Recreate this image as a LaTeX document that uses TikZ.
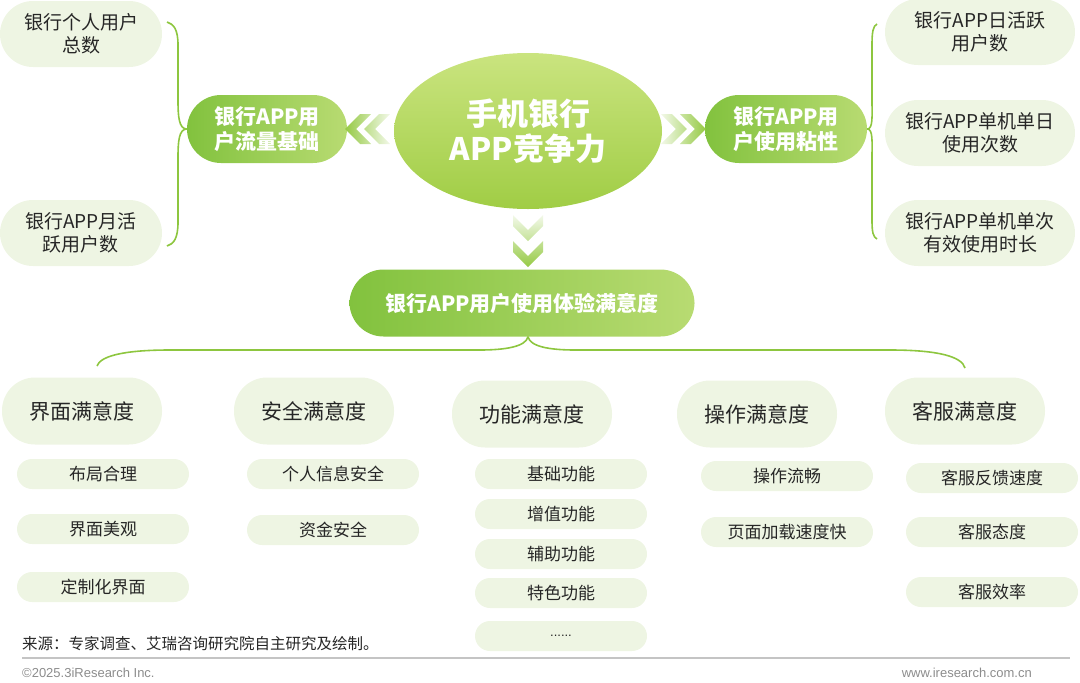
\documentclass[tikz,border=0pt]{standalone}
\usepackage{fontspec}
\setmainfont{Noto Sans CJK SC}
\newfontfamily\latinfont{Liberation Sans}
\usetikzlibrary{shapes.geometric,positioning,calc}

\definecolor{paleg}{HTML}{EEF5E3}
\definecolor{ink}{HTML}{262626}
\definecolor{hubdark}{HTML}{82C23E}
\definecolor{hublight}{HTML}{B8DB72}
\definecolor{coretop}{HTML}{CAE47F}
\definecolor{corebot}{HTML}{A0CD45}
\definecolor{braceg}{HTML}{8DC63F}
\definecolor{chevg}{HTML}{96CA45}
\definecolor{footg}{HTML}{8C8C8C}
\definecolor{ruleg}{HTML}{C4C4C4}

\tikzset{
  soft/.style={fill=paleg, text=ink, inner sep=0pt, align=center},
  catbox/.style={soft, minimum width=160, minimum height=67, rounded corners=33, font=\fontsize{21}{25}\selectfont},
  metricbox/.style={soft, minimum width=#1, minimum height=66, rounded corners=33, font=\fontsize{19}{23}\selectfont},
  itembox/.style={soft, minimum width=172, minimum height=30, rounded corners=15, font=\fontsize{17}{20}\selectfont},
  hubbox/.style={left color=hubdark, right color=hublight, text=white, inner sep=0pt, align=center, minimum height=68, rounded corners=34, font=\bfseries\fontsize{21}{25}\selectfont},
  brace/.style={draw=braceg, line width=1.6}
}

\begin{document}
\begin{tikzpicture}[x=1pt, y=-1pt]
  \useasboundingbox (0,0) rectangle (1080,683);

  % Core and the two hubs
  \node[ellipse, top color=coretop, bottom color=corebot, minimum width=268, minimum height=156,
        inner sep=0pt, align=center, text=white, font=\bfseries\fontsize{31}{35}\selectfont]
        (core) at (528,131) {手机银行\\APP竞争力};
  \node[hubbox, minimum width=160] (lflow) at (267,129) {银行APP用\\户流量基础};
  \node[hubbox, minimum width=162] (rstick) at (786,129) {银行APP用\\户使用粘性};
  \node[hubbox, minimum width=345, minimum height=67] (sat) at (522,303) {银行APP用户使用体验满意度};

  % Metrics left and right
  \node[metricbox=162] (tl1) at (81,34) {银行个人用户\\总数};
  \node[metricbox=162] (tl2) at (81,233) {银行APP月活\\跃用户数};
  \node[metricbox=190] (tr1) at (980,32) {银行APP日活跃\\用户数};
  \node[metricbox=190] (tr2) at (980,133) {银行APP单机单日\\使用次数};
  \node[metricbox=190] (tr3) at (980,233) {银行APP单机单次\\有效使用时长};

  % Chevrons
  \shade[left color=chevg, right color=chevg!12]
    ([xshift=-2]lflow.east) -- ++(15,-15) -- ++(11,0) -- ++(-15,15) -- ++(15,15) -- ++(-11,0) -- cycle
    ([xshift=17]lflow.east) -- ++(15,-15) -- ++(11,0) -- ++(-15,15) -- ++(15,15) -- ++(-11,0) -- cycle;
  \shade[left color=chevg!12, right color=chevg]
    ([xshift=-18]rstick.west) -- ++(-15,-15) -- ++(-11,0) -- ++(15,15) -- ++(-15,15) -- ++(11,0) -- cycle
    ([xshift=1]rstick.west) -- ++(-15,-15) -- ++(-11,0) -- ++(15,15) -- ++(-15,15) -- ++(11,0) -- cycle;
  \shade[top color=chevg!12, bottom color=chevg]
    ([yshift=-32]core.south) -- ++(-15,-15) -- ++(0,-11) -- ++(15,15) -- ++(15,-15) -- ++(0,11) -- cycle
    ([yshift=-58]core.south) -- ++(-15,-15) -- ++(0,-11) -- ++(15,15) -- ++(15,-15) -- ++(0,11) -- cycle;

  % Braces
  \coordinate (lt) at (167,22);
  \coordinate (lb) at (167,246);
  \coordinate (rt) at (877,24);
  \coordinate (rb) at (877,239);
  \draw[brace] (lflow.west) .. controls +(-8,0) and (178,116) .. (178,100) -- (178,45) .. controls (178,30) and (174,24) .. (lt);
  \draw[brace] (lflow.west) .. controls +(-8,0) and (178,142) .. (178,158) -- (178,222) .. controls (178,238) and (174,244) .. (lb);
  \draw[brace] (rstick.east) .. controls +(6,0) and (872,116) .. (872,100) -- (872,45) .. controls (872,32) and (873,26) .. (rt);
  \draw[brace] (rstick.east) .. controls +(6,0) and (872,142) .. (872,158) -- (872,220) .. controls (872,232) and (873,237) .. (rb);

  \coordinate (cusp) at (core.south |- sat.south);
  \coordinate (bl) at (97,366);
  \coordinate (br) at (965,368);
  \draw[brace] (cusp) .. controls +(-2,10) and (505,350) .. (480,350) -- (170,350) .. controls (120,350) and (100,357) .. (bl);
  \draw[brace] (cusp) .. controls +(2,10) and (550,350) .. (575,350) -- (890,350) .. controls (940,350) and (962,357) .. (br);

  % Satisfaction categories
  \node[catbox] (ui) at (82,411) {界面满意度};
  \node[catbox] (safe) at (314,411) {安全满意度};
  \node[catbox] (func) at (532,414) {功能满意度};
  \node[catbox] (oper) at (757,414) {操作满意度};
  \node[catbox] (serv) at (965,411) {客服满意度};

  % Items
  \foreach \t/\y [count=\i] in {布局合理/474, 界面美观/529, 定制化界面/587}
    \node[itembox] (ui\i) at (103,\y) {\t};
  \foreach \t/\y [count=\i] in {个人信息安全/474, 资金安全/530}
    \node[itembox] (safe\i) at (333,\y) {\t};
  \foreach \t/\y [count=\i] in {基础功能/474, 增值功能/514, 辅助功能/554, 特色功能/593}
    \node[itembox] (func\i) at (561,\y) {\t};
  \node[itembox, font=\latinfont\fontsize{13}{15}\selectfont] (func5) at (561,636) {......};
  \foreach \t/\y [count=\i] in {操作流畅/476, 页面加载速度快/532}
    \node[itembox] (oper\i) at (787,\y) {\t};
  \foreach \t/\y [count=\i] in {客服反馈速度/478, 客服态度/532, 客服效率/592}
    \node[itembox] (serv\i) at (992,\y) {\t};

  % Footer
  \node[anchor=west, inner sep=0pt, text=ink, font=\fontsize{15.5}{18}\selectfont] (src) at (22,644) {来源：专家调查、艾瑞咨询研究院自主研究及绘制。};
  \draw[ruleg, line width=1.5] (22,658) -- (1070,658);
  \node[anchor=west, inner sep=0pt, text=footg, font=\latinfont\fontsize{13}{15}\selectfont] (copy) at (22,673) {©2025.3iResearch Inc.};
  \node[anchor=east, inner sep=0pt, text=footg, font=\latinfont\fontsize{13}{15}\selectfont] (web) at (1032,673) {www.iresearch.com.cn};
\end{tikzpicture}
\end{document}
